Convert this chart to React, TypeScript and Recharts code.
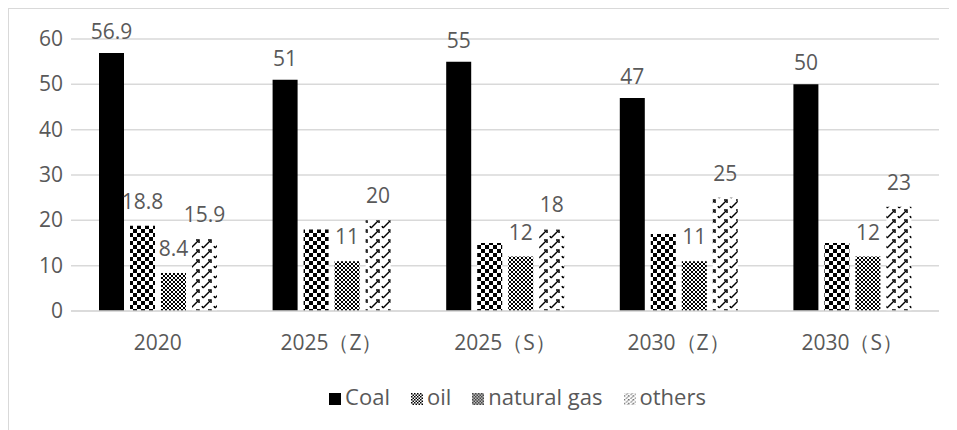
import { BarChart, Bar, XAxis, YAxis, CartesianGrid, Legend, LabelList } from 'recharts'

const categories = ['2020', '2025（Z）', '2025（S）', '2030（Z）', '2030（S）']
const coal = [56.9, 51, 55, 47, 50]
const oil = [18.8, 18, 15, 17, 15]
const oilLabels = ['18.8', '', '', '', '']
const naturalGas = [8.4, 11, 12, 11, 12]
const others = [15.9, 20, 18, 25, 23]
const yTicks = [0, 10, 20, 30, 40, 50, 60]
const legendOrder = ['Coal', 'oil', 'natural gas', 'others']

const data = categories.map((name, i) => ({
  name,
  coal: coal[i],
  oil: oil[i],
  oilLabel: oilLabels[i],
  gas: naturalGas[i],
  others: others[i],
}))

const FONT = '"Open Sans", sans-serif'
const TEXT = '#595959'
const SIZE = 21
const labelStyle = { fill: TEXT, fontSize: SIZE, fontFamily: FONT }

// y ticks drawn by hand so the labels sit close to the plot like the original
const YTick = ({ x, y, payload }: { x: number; y: number; payload: { value: number } }) => (
  <text x={x + 14} y={y} dy={7} textAnchor='end' fill={TEXT} fontSize={SIZE} fontFamily={FONT}>
    {payload.value}
  </text>
)

const App = () => {
  return (
    <div style={{ width: 949, height: 422, borderLeft: '1px solid #d9d9d9', borderTop: '1px solid #d9d9d9' }}>
      <BarChart
        width={948}
        height={421}
        data={data}
        margin={{ top: 30, right: 18, bottom: 19, left: 0 }}
        barSize={25}
        barGap={6}
      >
        <defs>
          <pattern id='oilPat' width='8' height='8' patternUnits='userSpaceOnUse'>
            <rect width='8' height='8' fill='#fff' />
            <rect x='0' y='0' width='4' height='4' fill='#000' />
            <rect x='4' y='4' width='4' height='4' fill='#000' />
          </pattern>
          <pattern id='gasPat' width='4' height='4' patternUnits='userSpaceOnUse'>
            <rect width='4' height='4' fill='#fff' />
            <rect x='0' y='0' width='2' height='2' fill='#000' />
            <rect x='2' y='2' width='2' height='2' fill='#000' />
          </pattern>
          <pattern id='othersPat' width='12' height='10' patternUnits='userSpaceOnUse'>
            <rect width='12' height='10' fill='#fff' />
            <path d='M2,9 L9,2' stroke='#000' strokeWidth='1.5' />
            <path d='M7,1 L10,1 L10,4' stroke='#000' strokeWidth='1.5' fill='none' />
            <path d='M1,7 L2,9' stroke='#000' strokeWidth='1.5' />
          </pattern>
        </defs>
        <CartesianGrid vertical={false} stroke='#d9d9d9' strokeWidth={1.5} />
        <XAxis
          dataKey='name'
          axisLine={{ stroke: '#d9d9d9', strokeWidth: 1.5 }}
          tickLine={false}
          tickSize={0}
          tickMargin={24}
          height={70}
          tick={{ fill: TEXT, fontSize: SIZE, fontFamily: FONT }}
        />
        <YAxis
          domain={[0, 60]}
          ticks={yTicks}
          axisLine={false}
          tickLine={false}
          tickSize={0}
          tickMargin={22}
          width={62}
          tick={YTick}
        />
        <Legend
          verticalAlign='bottom'
          iconType='square'
          iconSize={12}
          itemSorter={(item) => legendOrder.indexOf(String(item.value))}
          wrapperStyle={{ fontFamily: FONT, fontSize: 22, left: 124, width: 790 }}
          formatter={(value) => <span style={{ color: TEXT, marginRight: 11 }}>{value}</span>}
        />
        <Bar dataKey='coal' name='Coal' fill='#000' isAnimationActive={false}>
          <LabelList dataKey='coal' position='top' offset={14} style={labelStyle} />
        </Bar>
        <Bar dataKey='oil' name='oil' fill='url(#oilPat)' isAnimationActive={false}>
          <LabelList dataKey='oilLabel' position='top' offset={17} style={labelStyle} />
        </Bar>
        <Bar dataKey='gas' name='natural gas' fill='url(#gasPat)' isAnimationActive={false}>
          <LabelList dataKey='gas' position='top' offset={17} style={labelStyle} />
        </Bar>
        <Bar dataKey='others' name='others' fill='url(#othersPat)' isAnimationActive={false}>
          <LabelList dataKey='others' position='top' offset={17} style={labelStyle} />
        </Bar>
      </BarChart>
    </div>
  )
}

export default App
